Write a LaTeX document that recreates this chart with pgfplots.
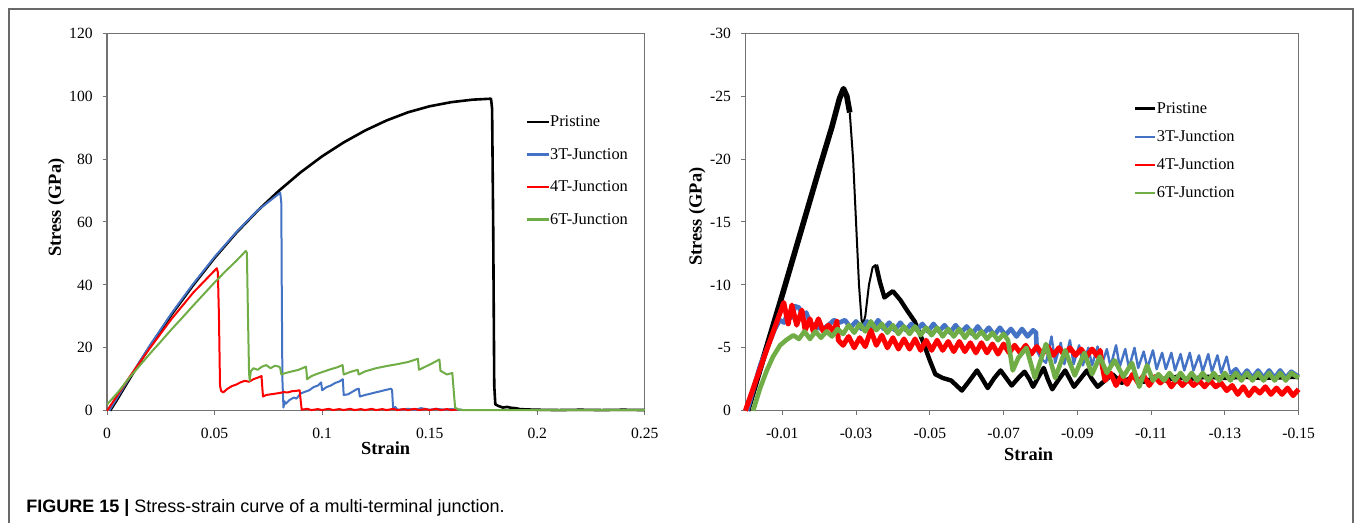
\documentclass[border=0pt]{standalone}
\usepackage{pgfplots}
\pgfplotsset{compat=1.18}
\usepackage{fontspec}
\setmainfont{Liberation Serif}
\newfontfamily\capfont{Liberation Sans}
\definecolor{xblue}{RGB}{68,114,196}
\definecolor{xred}{RGB}{255,0,0}
\definecolor{xgreen}{RGB}{112,173,71}
\definecolor{framegray}{RGB}{105,105,105}
\definecolor{axgray}{RGB}{115,115,115}
\pgfplotsset{
  myaxis/.style={
    scale only axis, anchor=south west,
    axis line style={axgray, line width=0.6pt},
    tick style={axgray, line width=0.5pt},
    tick align=outside, major tick length=2.2pt,
    xtick pos=lower, ytick pos=lower,
    tick label style={font=\fontsize{7.8}{9}\selectfont},
    xticklabel style={yshift=-3pt},
    yticklabel style={xshift=-1.5pt},
    label style={font=\fontsize{9.2}{11}\selectfont\bfseries},
    legend style={draw=none, fill=none, font=\fontsize{8.2}{10}\selectfont,
      inner sep=0pt, nodes={inner sep=0pt, text height=6pt, text depth=1.5pt}},
    legend cell align=left,
    every axis plot/.append style={line join=round},
    clip=false,
  }
}
\begin{document}
\begin{tikzpicture}
\useasboundingbox (0pt,0pt) rectangle (677.5pt,261.5pt);
\draw[framegray, line width=0.75pt] (4.5pt,-2pt) -- (4.5pt,257pt) -- (676.5pt,257pt) -- (676.5pt,-2pt);
\node[anchor=base west, inner sep=0pt, font=\capfont\fontsize{9}{11}\selectfont] at (13pt,5.3pt)
  {\textbf{FIGURE 15 |} Stress-strain curve of a multi-terminal junction.};

% ---------------- left: tension ----------------
\begin{axis}[myaxis, at={(53.55pt,56.15pt)}, width=268.85pt, height=188.7pt,
  xmin=0, xmax=0.25, ymin=0, ymax=120,
  xtick={0,0.05,0.1,0.15,0.2,0.25}, xticklabels={0,0.05,0.1,0.15,0.2,0.25},
  ytick={0,20,40,60,80,100,120}, yticklabels={0,20,40,60,80,100,120},
  xlabel={Strain}, ylabel={Stress (GPa)},
  xlabel style={at={(axis description cs:0.518,-0.0996)}, anchor=center},
  ylabel style={at={(axis description cs:-0.0943,0.538)}, anchor=center},
  legend style={at={(axis description cs:0.778,0.7857)}, anchor=north west, row sep=8.75pt},
  legend image code/.code={\draw[#1, line width=1.1pt] (0pt,0pt) -- (10.85pt,0pt);},
]
\addplot[black, line width=1.3pt, legend image code/.code={\draw[black, line width=1.3pt] (0pt,0pt) -- (10.85pt,0pt);}] coordinates {
(0.0014,0) (0.005,3.9) (0.01,9.6) (0.015,15.2) (0.02,20.5) (0.03,30.6) (0.04,39.9)
(0.05,48.6) (0.06,56.5) (0.07,63.6) (0.08,70.0) (0.09,75.8) (0.10,80.9) (0.11,85.3)
(0.12,89.1) (0.13,92.3) (0.14,94.9) (0.15,96.8) (0.16,98.1) (0.17,98.9) (0.1785,99.2)
(0.179,96) (0.1795,60) (0.180,8) (0.1805,2) (0.182,1.5) (0.184,1.0) (0.186,1.2)
(0.188,0.9) (0.19,0.8) (0.192,0.5) (0.195,0.4) (0.2,0.3) (0.21,0.2) (0.22,0.3) (0.23,0.2) (0.24,0.3) (0.25,0.2)};
\addlegendentry{Pristine}
\addplot[xblue, line width=1pt] coordinates {
(0.001,0) (0.01,10.0) (0.02,20.9) (0.03,31.0) (0.04,40.3) (0.05,48.9) (0.06,56.7)
(0.07,63.7) (0.0805,69.3) (0.081,66) (0.0812,40) (0.0815,10) (0.082,1.0) (0.0825,3)
(0.083,2.2) (0.085,3.5) (0.087,4.2) (0.088,3.8) (0.09,5.5) (0.092,6.0) (0.094,6.5)
(0.096,7.5) (0.098,8.0) (0.0995,9.0) (0.1,6.5) (0.102,7.5) (0.104,8.0) (0.106,8.8)
(0.108,9.3) (0.1096,10.0) (0.110,5.0) (0.112,5.2) (0.114,6.0) (0.116,6.8) (0.117,7.0)
(0.1175,4.5) (0.12,5.0) (0.123,5.5) (0.126,6.0) (0.129,6.5) (0.132,7.0) (0.1325,6.5)
(0.133,0.5) (0.134,1.2) (0.135,0.3) (0.14,0.6) (0.143,0.3) (0.146,0.8) (0.15,0.3)
(0.153,0.6) (0.157,0.3) (0.16,0.5) (0.165,0.3)};
\addlegendentry{3T-Junction}
\addplot[xred, line width=1pt] coordinates {
(0,0) (0.01,10.3) (0.02,20.0) (0.03,29.2) (0.04,37.5) (0.051,45.3) (0.0515,44)
(0.052,30) (0.0525,8) (0.053,6.3) (0.054,5.8) (0.056,7.0) (0.058,7.8) (0.06,8.3)
(0.062,9.0) (0.064,9.5) (0.066,9.2) (0.068,10.0) (0.07,10.5) (0.0718,11.0) (0.0722,7)
(0.0725,4.5) (0.074,5.0) (0.076,5.2) (0.078,5.4) (0.08,5.6) (0.082,5.9) (0.084,5.8)
(0.086,6.2) (0.088,6.3) (0.0895,6.5) (0.0902,2) (0.0905,0.3) (0.093,0.6) (0.095,0.2)
(0.098,0.5) (0.1,0.2) (0.103,0.6) (0.105,0.2) (0.108,0.5) (0.11,0.2) (0.113,0.6)
(0.115,0.2) (0.118,0.5) (0.12,0.2) (0.123,0.6) (0.125,0.2) (0.128,0.5) (0.13,0.2)
(0.133,0.6) (0.135,0.2) (0.138,0.5) (0.14,0.2) (0.143,0.6) (0.145,0.2) (0.148,0.5)
(0.15,0.2) (0.153,0.6) (0.155,0.2) (0.158,0.5) (0.16,0.2) (0.163,0.4)};
\addlegendentry{4T-Junction}
\addplot[xgreen, line width=1pt] coordinates {
(0,2.0) (0.005,5.8) (0.01,10.2) (0.015,14.2) (0.02,18.2) (0.025,22.0) (0.03,25.9)
(0.035,29.6) (0.04,33.4) (0.045,37.1) (0.05,40.8) (0.055,44.3) (0.06,47.6) (0.0645,50.8)
(0.065,50.2) (0.0655,30) (0.066,12) (0.0663,9.5) (0.0668,12.5) (0.068,13.5) (0.07,13.0)
(0.072,14.0) (0.074,14.5) (0.076,13.5) (0.078,14.3) (0.08,14.0) (0.0805,13.5) (0.081,11.5)
(0.083,12.0) (0.086,12.5) (0.089,13.0) (0.0925,14.0) (0.093,10.0) (0.095,11.0) (0.098,11.8)
(0.101,12.5) (0.104,13.2) (0.107,13.8) (0.1095,14.5) (0.110,11.5) (0.113,12.3) (0.1165,13.0)
(0.117,11.5) (0.12,12.5) (0.125,13.5) (0.13,14.2) (0.135,14.8) (0.14,15.5) (0.1445,16.5)
(0.145,13.0) (0.148,14.0) (0.151,15.0) (0.1545,16.3) (0.155,12.7) (0.158,11.5) (0.1605,12.0)
(0.1612,6) (0.1618,1.0) (0.163,0.5) (0.165,0.2) (0.18,0.2) (0.2,0.2) (0.22,0.2) (0.25,0.2)};
\addlegendentry{6T-Junction}
\end{axis}

% ---------------- right: compression ----------------
\begin{axis}[myaxis, at={(372.7pt,56.15pt)}, width=276.6pt, height=188.7pt,
  x dir=reverse, y dir=reverse,
  xmin=-0.15, xmax=0, ymin=-30, ymax=0,
  xtick={-0.01,-0.03,-0.05,-0.07,-0.09,-0.11,-0.13,-0.15},
  xticklabels={-0.01,-0.03,-0.05,-0.07,-0.09,-0.11,-0.13,-0.15},
  ytick={-30,-25,-20,-15,-10,-5,0}, yticklabels={-30,-25,-20,-15,-10,-5,0},
  xlabel={Strain}, ylabel={Stress (GPa)},
  xlabel style={at={(axis description cs:0.512,-0.1147)}, anchor=center},
  ylabel style={at={(axis description cs:-0.0871,0.514)}, anchor=center},
  legend style={at={(axis description cs:0.7005,0.821)}, anchor=north west, row sep=6.55pt},
  legend image code/.code={\draw[#1, line width=1.1pt] (0pt,0pt) -- (10.3pt,0pt);},
]
\addplot[black, line width=2.8pt, legend image code/.code={\draw[black, line width=1.5pt] (0pt,0pt) -- (10.3pt,0pt);}] coordinates {
(-0.0006,0) (-0.005,-4.3) (-0.010,-9.2) (-0.015,-14.2) (-0.020,-19.2) (-0.0235,-22.6)
(-0.0255,-24.8) (-0.0266,-25.6) (-0.0275,-25.0) (-0.0283,-23.7)};
\addlegendentry{Pristine}
\addplot[black, line width=1pt, forget plot] coordinates {
(-0.0283,-23.7) (-0.0292,-20) (-0.030,-15) (-0.0308,-10) (-0.0315,-7.2) (-0.0319,-6.9)
(-0.0325,-7.5) (-0.0335,-10) (-0.0345,-11.4) (-0.0354,-11.6)};
\addplot[black, line width=2.2pt, forget plot] coordinates {
(-0.0354,-11.6) (-0.0365,-10.2) (-0.0377,-9.0) (-0.039,-9.3) (-0.0400,-9.5) (-0.042,-8.8)
(-0.0440,-7.9) (-0.0459,-7.1) (-0.048,-5.6) (-0.0500,-4.0) (-0.0515,-2.9) (-0.0535,-2.6)
(-0.0558,-2.4) (-0.0587,-1.6) (-0.0608,-2.4) (-0.0628,-3.2) (-0.0643,-2.5) (-0.0657,-1.8)
(-0.0675,-2.6) (-0.0692,-3.2) (-0.0707,-2.6) (-0.0722,-2.0) (-0.0740,-2.6) (-0.0757,-3.1)
(-0.0770,-2.5) (-0.0780,-1.9) (-0.0795,-2.7) (-0.0809,-3.4) (-0.0820,-2.5) (-0.0832,-1.7)
(-0.0850,-2.5) (-0.0867,-3.2) (-0.0880,-2.5) (-0.0891,-1.9) (-0.0910,-2.6) (-0.0926,-3.2)
(-0.0940,-2.5) (-0.0955,-1.9) (-0.0975,-2.4) (-0.0995,-2.9) (-0.102,-2.2) (-0.105,-2.7)
(-0.108,-2.3) (-0.111,-2.6) (-0.114,-2.4) (-0.117,-2.7) (-0.120,-2.5) (-0.125,-2.7)
(-0.13,-2.6) (-0.135,-2.7) (-0.14,-2.6) (-0.15,-2.7)};
\addplot[xblue, line width=2.3pt] coordinates {
(-0.0005,0) (-0.004,-3.6) (-0.008,-6.5) (-0.0093,-7.2) (-0.0105,-7.0) (-0.0115,-7.8)
(-0.0125,-7.4) (-0.0135,-8.3) (-0.0145,-8.2) (-0.0155,-7.6) (-0.0165,-7.8) (-0.0175,-7.0)
(-0.0185,-6.8) (-0.0195,-6.6) (-0.021,-6.5) (-0.0225,-6.8) (-0.024,-7.2) (-0.0255,-7.0)
(-0.0270,-7.2) (-0.0285,-6.6) (-0.0300,-7.1) (-0.0315,-6.5) (-0.0330,-7.1) (-0.0345,-6.5)
(-0.0360,-7.2) (-0.0375,-6.5) (-0.0390,-7.0) (-0.0405,-6.4) (-0.0420,-7.0) (-0.0435,-6.4)
(-0.0450,-6.9) (-0.0465,-6.4) (-0.0480,-6.9) (-0.0495,-6.3) (-0.0510,-6.9) (-0.0525,-6.3)
(-0.0540,-6.8) (-0.0555,-6.2) (-0.0570,-6.8) (-0.0585,-6.2) (-0.0600,-6.7) (-0.0615,-6.1)
(-0.0630,-6.7) (-0.0645,-6.1) (-0.0660,-6.6) (-0.0675,-6.0) (-0.0690,-6.6) (-0.0705,-6.0)
(-0.0720,-6.5) (-0.0735,-5.9) (-0.0750,-6.5) (-0.0765,-5.9) (-0.0780,-6.4) (-0.0788,-6.2)
(-0.0790,-4.8)};
\addlegendentry{3T-Junction}
\addplot[xblue, line width=1.2pt, forget plot] coordinates {
(-0.0790,-4.8) (-0.0800,-4.2) (-0.0815,-3.8) (-0.0830,-5.9) (-0.0840,-3.8) (-0.0855,-5.4)
(-0.0865,-3.7) (-0.0880,-5.6) (-0.0890,-3.7) (-0.0905,-5.2) (-0.0915,-3.6) (-0.0930,-5.0)
(-0.0940,-3.6) (-0.0955,-5.1) (-0.0965,-3.5) (-0.0980,-4.9) (-0.0990,-3.5) (-0.1005,-5.2)
(-0.1015,-3.5) (-0.1030,-4.9) (-0.1040,-3.4) (-0.1055,-5.0) (-0.1065,-3.4) (-0.1080,-4.7)
(-0.1090,-3.4) (-0.1105,-4.8) (-0.1115,-3.3) (-0.1130,-4.6) (-0.1140,-3.3) (-0.1155,-4.6)
(-0.1165,-3.2) (-0.1180,-4.5) (-0.1190,-3.2) (-0.1205,-4.6) (-0.1215,-3.2) (-0.1230,-4.4)
(-0.1240,-3.1) (-0.1255,-4.5) (-0.1265,-3.1) (-0.1280,-4.4) (-0.1290,-3.0) (-0.1305,-4.3)
(-0.1315,-2.9)};
\addplot[xblue, line width=2.3pt, forget plot] coordinates {
(-0.1315,-2.9) (-0.1330,-3.3) (-0.1345,-2.6) (-0.1360,-3.2) (-0.1375,-2.6) (-0.1390,-3.2)
(-0.1405,-2.6) (-0.1420,-3.2) (-0.1435,-2.6) (-0.1450,-3.2) (-0.1465,-2.6) (-0.1480,-3.1)
(-0.1500,-2.7)};
\addplot[xred, line width=2.5pt] coordinates {
(0,0) (-0.005,-4.2) (-0.0104,-8.6) (-0.0116,-6.9) (-0.0126,-8.4) (-0.0139,-6.8)
(-0.0153,-8.0) (-0.0162,-6.4) (-0.0175,-7.3) (-0.0184,-6.3) (-0.0198,-7.3) (-0.0211,-6.3)
(-0.0225,-6.8) (-0.0239,-6.3) (-0.0248,-7.1) (-0.0252,-5.6)
(-0.0265,-5.2) (-0.0280,-5.9) (-0.0295,-5.0) (-0.0310,-5.8) (-0.0325,-5.1) (-0.0340,-6.4)
(-0.0355,-5.2) (-0.0370,-6.0) (-0.0385,-5.0) (-0.0400,-5.8) (-0.0415,-4.9) (-0.0430,-5.7)
(-0.0445,-4.9) (-0.0460,-5.7) (-0.0475,-4.8) (-0.0490,-5.6) (-0.0505,-4.8) (-0.0520,-5.6)
(-0.0535,-4.8) (-0.0550,-5.5) (-0.0565,-4.7) (-0.0580,-5.5) (-0.0595,-4.7) (-0.0610,-5.4)
(-0.0625,-4.6) (-0.0640,-5.4) (-0.0655,-4.6) (-0.0670,-5.3) (-0.0685,-4.5) (-0.0700,-5.3)
(-0.0715,-4.6) (-0.0730,-5.2) (-0.0745,-4.6) (-0.0760,-5.2) (-0.0775,-4.5) (-0.0790,-5.1)
(-0.0805,-4.5) (-0.0820,-5.1) (-0.0835,-4.4) (-0.0850,-5.0) (-0.0865,-4.4) (-0.0880,-5.0)
(-0.0895,-4.4) (-0.0910,-4.9) (-0.0925,-4.3) (-0.0940,-4.9) (-0.0955,-4.3) (-0.0962,-4.8)
(-0.0968,-3.5) (-0.0975,-2.4) (-0.0990,-3.0) (-0.1005,-2.0) (-0.1020,-2.8) (-0.1035,-2.1)
(-0.1050,-2.9) (-0.1065,-2.2) (-0.1080,-2.8) (-0.1095,-2.0) (-0.1110,-2.7) (-0.1125,-2.2)
(-0.1140,-2.6) (-0.1155,-1.9) (-0.1170,-2.5) (-0.1185,-2.0) (-0.1200,-2.5) (-0.1215,-2.0)
(-0.1230,-2.4) (-0.1245,-1.9) (-0.1260,-2.4) (-0.1275,-1.9) (-0.1290,-2.2) (-0.1305,-1.6)
(-0.1320,-2.0) (-0.1335,-1.3) (-0.1350,-1.9) (-0.1365,-1.2) (-0.1380,-1.8) (-0.1395,-1.4)
(-0.1410,-1.9) (-0.1425,-1.3) (-0.1440,-1.8) (-0.1455,-1.3) (-0.1470,-1.8) (-0.1485,-1.2)
(-0.1500,-1.7)};
\addlegendentry{4T-Junction}
\addplot[xgreen, line width=2.3pt] coordinates {
(-0.0021,0) (-0.004,-1.8) (-0.0058,-3.2) (-0.0075,-4.3) (-0.0094,-5.2) (-0.011,-5.6)
(-0.013,-6.0) (-0.0145,-5.7) (-0.0160,-6.3) (-0.0175,-5.7) (-0.0190,-6.3) (-0.0205,-5.8)
(-0.0220,-6.3) (-0.0235,-5.9) (-0.0250,-6.5) (-0.0265,-6.1) (-0.0280,-6.8) (-0.0295,-6.2)
(-0.0310,-6.9) (-0.0325,-6.3) (-0.0340,-7.1) (-0.0355,-6.4) (-0.0370,-6.9) (-0.0385,-6.2)
(-0.0400,-6.8) (-0.0415,-6.1) (-0.0430,-6.7) (-0.0445,-6.1) (-0.0460,-6.7) (-0.0475,-6.0)
(-0.0490,-6.6) (-0.0505,-6.0) (-0.0520,-6.6) (-0.0535,-5.9) (-0.0550,-6.5) (-0.0565,-5.9)
(-0.0580,-6.5) (-0.0595,-5.8) (-0.0610,-6.4) (-0.0625,-5.8) (-0.0640,-6.3) (-0.0655,-5.7)
(-0.0670,-6.2) (-0.0685,-5.6) (-0.0700,-6.1) (-0.0712,-5.6)
(-0.0725,-3.2) (-0.0740,-4.2) (-0.0762,-5.0) (-0.0785,-2.6) (-0.0815,-5.3) (-0.0840,-2.6)
(-0.0867,-4.8) (-0.0893,-2.8) (-0.0919,-4.6) (-0.0940,-2.9) (-0.0961,-4.3) (-0.0980,-3.0)
(-0.1001,-4.0) (-0.1025,-2.7) (-0.1048,-3.8) (-0.1068,-1.9) (-0.1089,-3.6) (-0.1105,-2.4)
(-0.1120,-2.9) (-0.1135,-2.4) (-0.1150,-3.0) (-0.1165,-2.4) (-0.1180,-3.0) (-0.1195,-2.4)
(-0.1210,-3.0) (-0.1225,-2.4) (-0.1240,-3.0) (-0.1255,-2.4) (-0.1270,-3.0) (-0.1285,-2.4)
(-0.1300,-3.0) (-0.1315,-2.4) (-0.1330,-3.0) (-0.1345,-2.4) (-0.1360,-3.0) (-0.1375,-2.4)
(-0.1390,-3.0) (-0.1405,-2.4) (-0.1420,-3.0) (-0.1435,-2.4) (-0.1450,-3.0) (-0.1465,-2.4)
(-0.1480,-3.0) (-0.1500,-2.6)};
\addlegendentry{6T-Junction}
\end{axis}
\end{tikzpicture}
\end{document}
